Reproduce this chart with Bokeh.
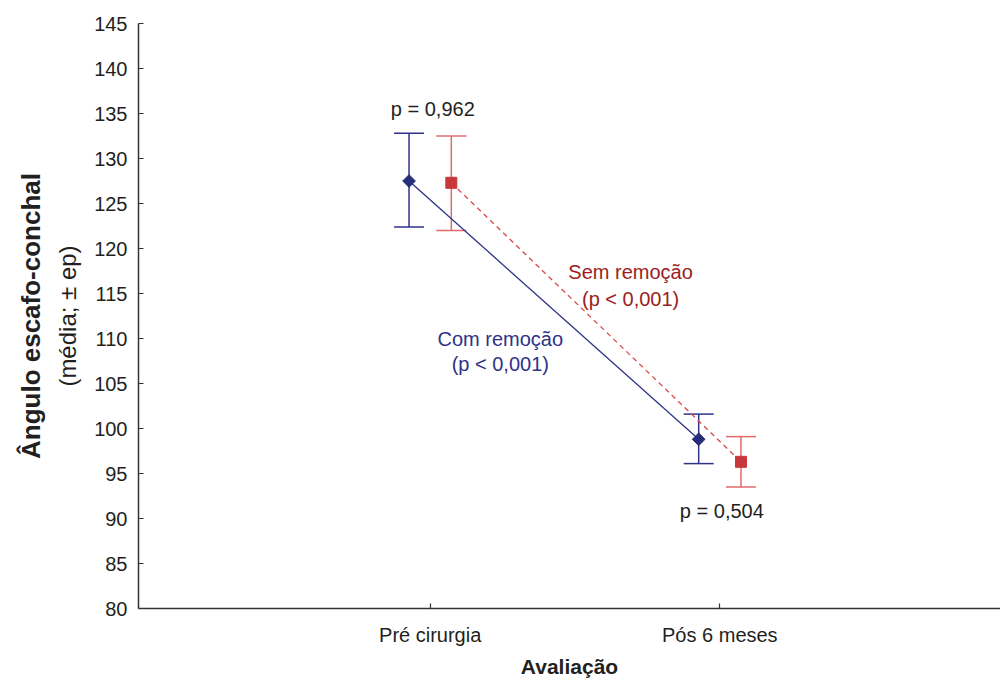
import math
from bokeh.plotting import figure
from bokeh.models import Range1d, FixedTicker, Whisker, TeeHead, ColumnDataSource, LinearAxis
from bokeh.embed import file_html
from bokeh.resources import INLINE
from bokeh.core.properties import value

# ---- data ----
categories = ["Pré cirurgia", "Pós 6 meses"]
com_mean = [127.5, 98.8]
com_lower = [122.4, 96.1]
com_upper = [132.8, 101.6]
sem_mean = [127.3, 96.3]
sem_lower = [122.0, 93.5]
sem_upper = [132.5, 99.1]
y_ticks = list(range(80, 146, 5))

annot_text = ["p = 0,962", "p = 0,504", "Sem remoção", "(p < 0,001)", "Com remoção", "(p < 0,001)"]

# ---- layout / style ----
FONT = "Liberation Sans"
NAVY = "#252E7A"
NAVY_LINE = "#2E3388"
RED = "#C8383B"
RED_BAR = "#E06A6C"
RED_DASH = "#D9494C"
RED_TEXT = "#9A1E22"
TXT = "#231F20"
OFF = 0.073

cat_x = list(range(len(categories)))
com_x = [c - OFF for c in cat_x]
sem_x = [c + OFF for c in cat_x]

p = figure(width=1000, height=686, x_range=Range1d(-1.007, 1.969), y_range=Range1d(80, 145),
           output_backend="svg", toolbar_location=None,
           min_border_left=138, min_border_right=0, min_border_top=23, min_border_bottom=78)
p.outline_line_color = None
p.xgrid.visible = False
p.ygrid.visible = False
p.background_fill_color = "white"

com_src = ColumnDataSource(dict(x=com_x, y=com_mean, lo=com_lower, hi=com_upper))
sem_src = ColumnDataSource(dict(x=sem_x, y=sem_mean, lo=sem_lower, hi=sem_upper))

# lines
p.line("x", "y", source=com_src, line_color=NAVY_LINE, line_width=1.3)
p.line("x", "y", source=sem_src, line_color=RED_DASH, line_width=1.3, line_dash="5 4")

# error bars
p.add_layout(Whisker(base="x", upper="hi", lower="lo", source=com_src, dimension="height",
                     line_color=NAVY_LINE, line_width=1.5,
                     upper_head=TeeHead(size=30, line_color=NAVY_LINE, line_width=1.5),
                     lower_head=TeeHead(size=30, line_color=NAVY_LINE, line_width=1.5)))
p.add_layout(Whisker(base="x", upper="hi", lower="lo", source=sem_src, dimension="height",
                     line_color=RED_BAR, line_width=1.5,
                     upper_head=TeeHead(size=30, line_color=RED_BAR, line_width=1.5),
                     lower_head=TeeHead(size=30, line_color=RED_BAR, line_width=1.5)))

# markers
p.scatter("x", "y", source=com_src, marker="square", angle=math.pi / 4, size=9,
          fill_color=NAVY, line_color=NAVY)
p.scatter("x", "y", source=sem_src, marker="square", size=11,
          fill_color=RED, line_color=RED)

# annotations
annot_x = [0.009, 1.007, 0.692, 0.692, 0.242, 0.242]
annot_y = [135.5, 90.8, 117.4, 114.4, 110.0, 107.2]
annot_color = [TXT, TXT, RED_TEXT, RED_TEXT, NAVY_LINE, NAVY_LINE]
p.text(x=annot_x, y=annot_y, text=annot_text, text_color=annot_color,
       text_font=value(FONT), text_font_size="20px", text_align="center",
       text_baseline="alphabetic")

# axes
for ax in (p.xaxis, p.yaxis):
    ax.axis_line_color = "#333333"
    ax.axis_line_width = 1.5
    ax.major_tick_line_color = "#333333"
    ax.major_tick_line_width = 1.2
    ax.major_tick_in = 5
    ax.major_tick_out = 0
    ax.minor_tick_line_color = None
    ax.major_label_text_font = FONT
    ax.major_label_text_font_size = "20px"
    ax.major_label_text_color = TXT
    ax.axis_label_text_font = FONT
    ax.axis_label_text_color = TXT

p.xaxis.ticker = FixedTicker(ticks=cat_x)
p.xaxis.major_label_overrides = {i: c for i, c in zip(cat_x, categories)}
p.xaxis.major_label_standoff = 15
p.xaxis.axis_label = "Avaliação"
p.xaxis.axis_label_text_font_style = "bold"
p.xaxis.axis_label_text_font_size = "21px"
p.xaxis.axis_label_standoff = 6

p.yaxis.ticker = FixedTicker(ticks=y_ticks)
p.yaxis.major_label_standoff = 11
p.yaxis.axis_label = "(média; ± ep)"
p.yaxis.axis_label_text_font_style = "normal"
p.yaxis.axis_label_text_font_size = "24px"
p.yaxis.axis_label_standoff = 10

# outer left axis carrying the bold title
title_axis = LinearAxis(ticker=FixedTicker(ticks=[]), axis_line_color=None,
                        major_tick_line_color=None, minor_tick_line_color=None,
                        major_label_text_font_size="0px",
                        axis_label="Ângulo escafo-conchal", axis_label_text_font=FONT,
                        axis_label_text_font_style="bold", axis_label_text_font_size="26px",
                        axis_label_text_color=TXT, axis_label_standoff=6)
p.add_layout(title_axis, "left")

open("out.html", "w").write(file_html(p, INLINE))
